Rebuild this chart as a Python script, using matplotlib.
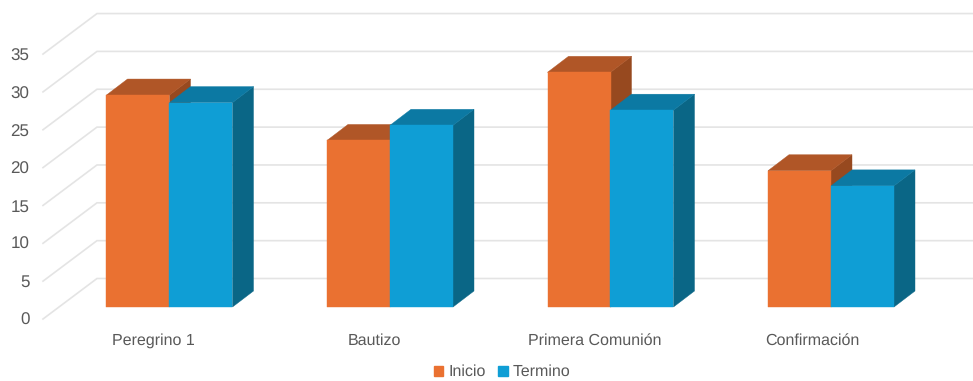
import matplotlib.pyplot as plt
from matplotlib.patches import Patch, Polygon
import numpy as np

plt.rcParams['font.family'] = ['Liberation Sans', 'DejaVu Sans']
plt.rcParams['text.hinting'] = 'no_hinting'
plt.rcParams['text.hinting_factor'] = 1

# data
categories = ['Peregrino 1', 'Bautizo', 'Primera Comunión', 'Confirmación']
inicio = [28, 22, 31, 18]
termino = [27, 24, 26, 16]
y_ticks = [0, 5, 10, 15, 20, 25, 30, 35]

# colors: front, top, side
colors_inicio = ['#EA7131', '#B05627', '#97491F']
colors_termino = ['#0F9ED5', '#0C79A3', '#0A6686']
color_grid = '#E4E4E4'
color_text = '#595959'

# layout in pixels
W, H = 973, 381
x_first = 169.5
x_step = 220.5
y_zero = 307.0
y_scale = 7.57
bar_w = 63.0
label_shift = [-16.5, -16, -16, -19]

fig = plt.figure(figsize=(W / 100, H / 100), dpi=100)
ax = fig.add_axes([0, 0, 1, 1])
ax.set_xlim(-x_first / x_step, (W - x_first) / x_step)
ax.set_ylim(-(H - y_zero) / y_scale, y_zero / y_scale)
ax.axis('off')


def ux(px):
    return px / x_step


def uy(px):
    return px / y_scale


# walls: back plane sits 28.5px above the bars' front plane, front edge 12px below
x_left_front = ux(43 - x_first)
x_left_back = ux(97 - x_first)
x_right = ux(W - x_first)
back = uy(28.5)
front = uy(-12)
for v in y_ticks:
    ax.plot([x_left_front, x_left_back, x_right], [v + front, v + back, v + back],
            color=color_grid, linewidth=1.2, solid_joinstyle='miter', zorder=1)
    ax.text(ux(29.5 - x_first), v * 37.6 / 5 / y_scale + uy(-13), str(v), ha='right', va='center',
            fontsize=12.2, color=color_text)


def draw_bar(x0, value, cols, z):
    w = ux(bar_w)
    dx = ux(21)
    dy = uy(16)
    ax.add_patch(Polygon([(x0 + w, 0), (x0 + w + dx, dy), (x0 + w + dx, value + dy), (x0 + w, value)],
                         facecolor=cols[2], edgecolor=cols[2], linewidth=0.3, zorder=z))
    ax.add_patch(Polygon([(x0, value), (x0 + dx, value + dy), (x0 + w + dx, value + dy), (x0 + w, value)],
                         facecolor=cols[1], edgecolor=cols[1], linewidth=0.3, zorder=z))
    ax.bar(x0, value, width=w, align='edge', color=cols[0], edgecolor=cols[0], linewidth=0.3,
           zorder=z + 0.1)


x = np.arange(len(categories))
for i in x:
    draw_bar(i - ux(bar_w), inicio[i], colors_inicio, 2 + 2 * i)
    draw_bar(i, termino[i], colors_termino, 3 + 2 * i)
    ax.text(i + ux(label_shift[i]), uy(-33.5), categories[i], ha='center', va='center',
            fontsize=11.4, color=color_text)

handles = [Patch(color=colors_inicio[0], label='Inicio'),
           Patch(color=colors_termino[0], label='Termino')]
ax.legend(handles=handles, loc='center', bbox_to_anchor=(502 / W, 1 - 372 / H), ncol=2,
          frameon=False, fontsize=11.4, labelcolor=color_text, handlelength=0.6,
          handleheight=0.6, handletextpad=0.3, columnspacing=0.8, borderpad=0)

plt.savefig('out.png', dpi=100)
